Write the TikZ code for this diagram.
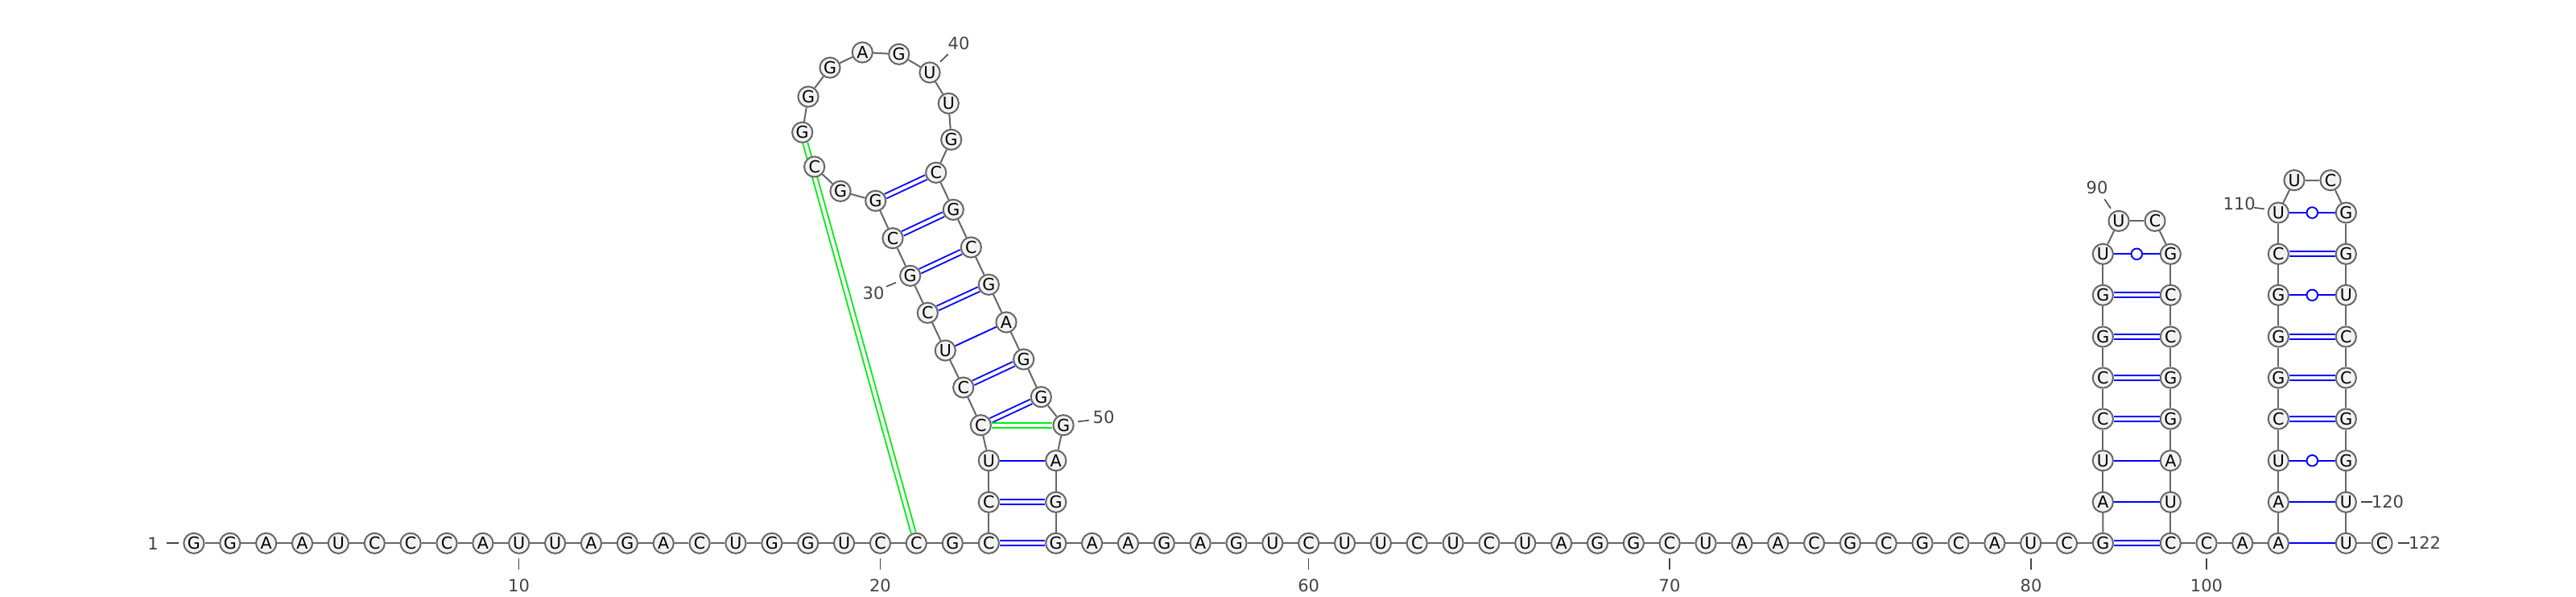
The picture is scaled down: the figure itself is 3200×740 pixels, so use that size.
\documentclass[tikz,border=0pt]{standalone}
\usepackage{fontspec}
\setmainfont{DejaVu Sans}
\usetikzlibrary{backgrounds}
\definecolor{bbcol}{HTML}{666666}
\definecolor{basefill}{HTML}{F2F2F2}
\definecolor{numcol}{HTML}{444444}
\definecolor{pairblue}{HTML}{0000FF}
\definecolor{pairgreen}{HTML}{00EE10}
\tikzset{
  base/.style={circle,draw=bbcol,fill=basefill,line width=1pt,minimum size=12.6pt,inner sep=0pt,font=\fontsize{10.3}{10.3}\selectfont,text=black},
  backbone/.style={draw=bbcol,line width=1pt},
  pairone/.style={draw=pairblue,line width=0.95pt},
  pairtwo/.style={draw=pairblue,line width=0.95pt,double=white,double distance=2.05pt},
  pairgr/.style={draw=pairgreen,line width=0.95pt,double=white,double distance=2.05pt},
  wob/.style={circle,draw=pairblue,fill=white,line width=0.95pt,minimum size=6.8pt,inner sep=0pt},
  num/.style={font=\fontsize{10.5}{10.5}\selectfont,text=numcol,inner sep=0pt},
  tickline/.style={draw=numcol,line width=0.75pt}
}
\begin{document}
\begin{tikzpicture}[x=0.5pt,y=-0.5pt]
\useasboundingbox (0,0) rectangle (3200,740);
% 5' strand 1-21
\foreach \i/\b in {1/G,2/G,3/A,4/A,5/U,6/C,7/C,8/C,9/A,10/U,11/U,12/A,13/G,14/A,15/C,16/U,17/G,18/G,19/U,20/C,21/C}
  \node[base] (n\i) at ({1138.3-(21-\i)*44.87},674.3) {\b};
\foreach \i/\x/\y/\b in {22/1183.3/674.3/G,23/1228.3/674.3/C,24/1228.3/623.3/C,25/1228.3/571.7/U,26/1218.3/527.7/C,27/1196.7/481/C,28/1174.3/435/U,29/1152.3/388.3/C,30/1130.7/342.3/G,31/1109/295.7/C,32/1087.7/249.3/G,33/1044/237.3/G,34/1011.7/207/C,35/996.7/164.3/G,36/1004/120/G,37/1031/84/G,38/1071.3/65/A,39/1116.7/67.3/G,40/1155/90/U,41/1178.3/128.3/U,42/1181.7/173.3/G,43/1162.7/214.3/C,44/1184.3/260.3/G,45/1206.3/307/C,46/1228.3/353.3/G,47/1250/400/A,48/1271.7/446/G,49/1293.3/492.7/G,50/1321/527.7/G,51/1311.7/571.7/A,52/1311.7/623.3/G}
  \node[base] (n\i) at (\x,\y) {\b};
% strand 53-82
\foreach \i/\b in {53/G,54/A,55/A,56/G,57/A,58/G,59/U,60/C,61/U,62/U,63/C,64/U,65/C,66/U,67/A,68/G,69/G,70/C,71/U,72/A,73/A,74/C,75/G,76/C,77/G,78/C,79/A,80/U,81/C,82/G}
  \node[base] (n\i) at ({1311.7+(\i-53)*44.85},674.3) {\b};
% hairpins 83-122
\foreach \i/\x/\y/\b in {83/2612.3/623.3/A,84/2612.3/571.7/U,85/2612.3/520/C,86/2612.3/469/C,87/2612.3/418/G,88/2612.3/366.3/G,89/2612.3/315.3/U,90/2632/274.3/U,91/2677/274.3/C,92/2696.3/315.3/G,93/2696.3/366.3/C,94/2696.3/418/C,95/2696.3/469/G,96/2696.3/520/G,97/2696.3/571.7/A,98/2696.3/623.3/U,99/2696.3/674.3/C,100/2741/674.3/C,101/2785.7/674.3/A,102/2830.3/674.3/A,103/2830.3/623.3/A,104/2830.3/571.7/U,105/2830.3/520/C,106/2830.3/469/G,107/2830.3/418/G,108/2830.3/366.3/G,109/2830.3/315.3/C,110/2830.3/264/U,111/2850/223.7/U,112/2895/223.7/C,113/2914.3/264/G,114/2914.3/315.3/G,115/2914.3/366.3/U,116/2914.3/418/C,117/2914.3/469/C,118/2914.3/520/G,119/2914.3/571.7/G,120/2914.3/623.3/U,121/2914.3/674.3/U,122/2959/674.3/C}
  \node[base] (n\i) at (\x,\y) {\b};
% numbers
\node[num] (l1) at (190,675) {1};
\node[num] (l10) at (644.6,727) {10};
\node[num] (l20) at (1093.4,727) {20};
\node[num] (l30) at (1085,364) {30};
\node[num] (l40) at (1191,54) {40};
\node[num] (l50) at (1371,517.7) {50};
\node[num] (l60) at (1625.6,727) {60};
\node[num] (l70) at (2074,727) {70};
\node[num] (l80) at (2523,727) {80};
\node[num] (l90) at (2605,232.7) {90};
\node[num] (l100) at (2741,727) {100};
\node[num] (l110) at (2781.7,253.3) {110};
\node[num] (l120) at (2966,623) {120};
\node[num] (l122) at (3012,674) {122};
% tick ends
\coordinate (a1) at (207,674); \coordinate (b1) at (222,674);
\coordinate (a10) at (644.6,693); \coordinate (b10) at (644.6,707);
\coordinate (a20) at (1093.4,693); \coordinate (b20) at (1093.4,707);
\coordinate (a30) at (1101,355.7); \coordinate (b30) at (1113,350.7);
\coordinate (a40) at (1168,76.7); \coordinate (b40) at (1177.7,67.3);
\coordinate (a50) at (1339,523.3); \coordinate (b50) at (1352.7,521.7);
\coordinate (a60) at (1625.6,693); \coordinate (b60) at (1625.6,707);
\coordinate (a70) at (2074,693); \coordinate (b70) at (2074,707);
\coordinate (a80) at (2523,693); \coordinate (b80) at (2523,707);
\coordinate (a90) at (2614.3,247.3); \coordinate (b90) at (2622,258.7);
\coordinate (a100) at (2741,693); \coordinate (b100) at (2741,707);
\coordinate (a110) at (2800,257.7); \coordinate (b110) at (2812.7,259.3);
\coordinate (a120) at (2933,623); \coordinate (b120) at (2947,623);
\coordinate (a122) at (2979,674); \coordinate (b122) at (2993,674);
\begin{scope}[on background layer]
  \fill[white] (0,0) rectangle (3200,740);
  \foreach \i in {1,10,20,30,40,50,60,70,80,90,100,110,120,122}
    \draw[tickline] (a\i) -- (b\i);
  \foreach \i [remember=\i as \p (initially 1)] in {2,...,122}
    \draw[backbone] (n\p) -- (n\i);
  % double blue pairs
  \foreach \p/\q in {23/53,24/52,26/49,27/48,29/46,30/45,31/44,32/43,82/99,85/96,86/95,87/94,88/93,105/118,106/117,107/116,109/114}
    \draw[pairtwo] (n\p) -- (n\q);
  % single blue pairs
  \foreach \p/\q in {25/51,28/47,83/98,84/97,102/121,103/120}
    \draw[pairone] (n\p) -- (n\q);
  % green pairs
  \draw[pairgr] (n21) -- (n35);
  \draw[pairgr] (n26) -- (n50);
  % wobble pairs
  \draw[pairone] (n89) -- node[wob] (w89) {} (n92);
  \draw[pairone] (n104) -- node[wob] (w104) {} (n119);
  \draw[pairone] (n108) -- node[wob] (w108) {} (n115);
  \draw[pairone] (n110) -- node[wob] (w110) {} (n113);
\end{scope}
\end{tikzpicture}
\end{document}
